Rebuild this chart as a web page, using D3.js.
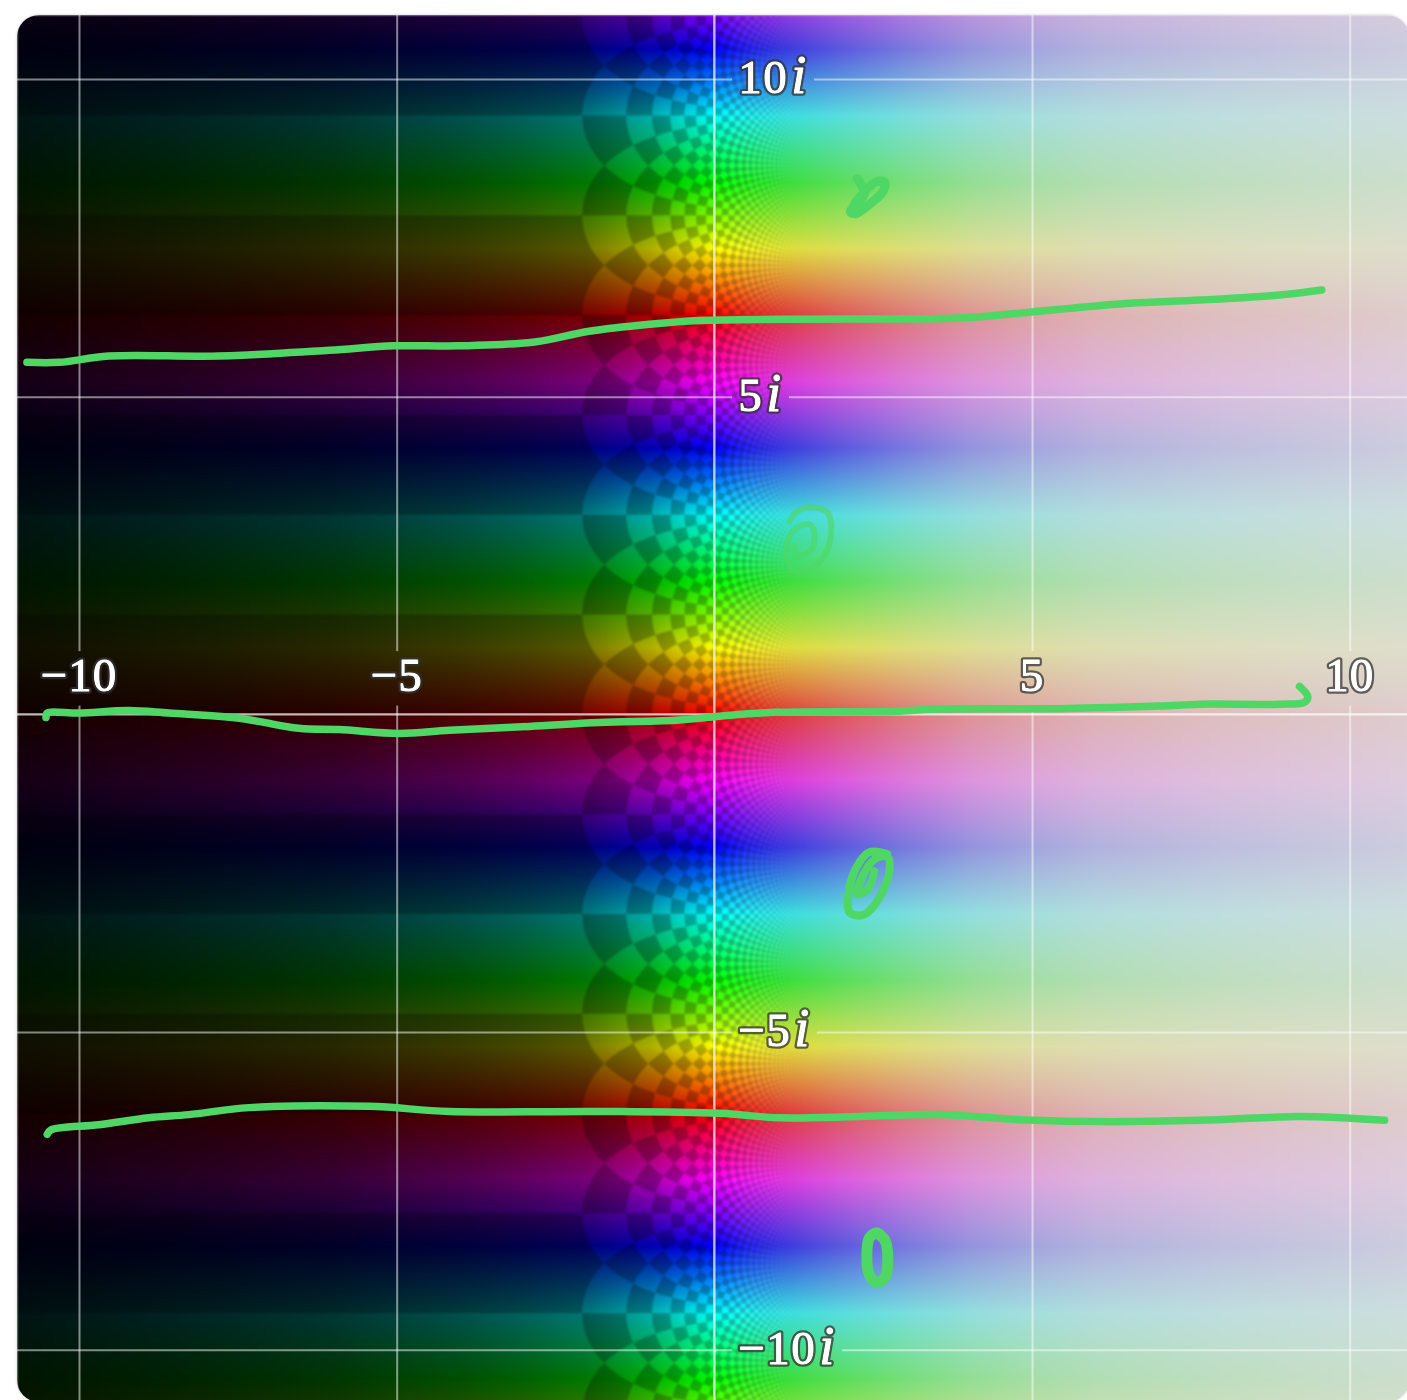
<!DOCTYPE html>
<html><head><meta charset="utf-8">
<script src="https://cdn.jsdelivr.net/npm/d3@7"></script>
<style>
html,body{margin:0;padding:0;background:#fff;overflow:hidden;width:1407px;height:1400px}
#frame{position:absolute;left:17px;top:15px;width:1392px;height:1387px;border-radius:22px;overflow:hidden;box-shadow:0 0 3px rgba(0,0,0,.2)}
#plane{position:absolute;left:0;top:0;filter:blur(1px)}
#over{position:absolute;left:0;top:0;filter:blur(.5px)}
</style></head><body>
<div id="frame"><canvas id="plane"></canvas></div>
<svg id="over" width="1407" height="1400"></svg>
<script>
// ---- axes
const realTicks = [-10,-5,5,10];
const imagTicks = [10,5,-5,-10];
const realLabels = ["−10","−5","5","10"];
const imagLabels = ["10","5","−5","−10"];
// ---- colour read-outs: hue against Im(z), lightness against Re(z)
const hueAtIm  = [0,1.05,2.09,3.14,4.19,5.24,6.28];
const hueDeg   = [0,60,120,180,240,300,360];
const lightAtRe= [-11,-10,-8,-6,-5,-4,-3,-2,-1,-.5,0,.5,1,2,3,4,5,6,8,10,11];
const lightVal = [.04,.05,.075,.105,.13,.155,.19,.235,.34,.42,.5,.57,.62,.7,.77,.83,.87,.9,.93,.95,.96];
const cellsPerUnit = 8, darkCell = .74;
// ---- hand-drawn green ink, in plot units
const ink1Re=[-10.82,-10.31,-9.53,-7.80,-6.06,-5.04,-4.02,-2.83,-1.97,-1.02,-0.24,1.18,3.86,4.65,5.59,6.54,7.64,8.90,9.56];
const ink1Im=[5.54,5.54,5.64,5.64,5.73,5.80,5.80,5.86,6.03,6.14,6.20,6.22,6.24,6.30,6.39,6.47,6.52,6.60,6.68];
const ink2Re=[-10.52,-10.50,-10.0,-9.21,-8.58,-7.48,-6.54,-5.91,-4.96,-4.17,-2.91,-1.81,-0.55,0.08,0.87,2.91,3.39,5.43,7.01,7.64,8.90,9.29,9.34,9.21];
const ink2Im=[-.05,.02,.02,.06,.02,-.06,-.22,-.24,-.30,-.25,-.19,-.13,-.09,-.03,.03,.05,.08,.09,.13,.16,.16,.19,.28,.44];
const ink3Re=[-10.50,-10.44,-9.69,-8.90,-8.27,-7.32,-5.43,-4.17,-1.81,.08,1.02,2.28,3.54,4.80,6.06,7.64,9.21,10.55];
const ink3Im=[-6.61,-6.54,-6.46,-6.35,-6.30,-6.19,-6.17,-6.25,-6.25,-6.28,-6.35,-6.33,-6.30,-6.38,-6.41,-6.39,-6.33,-6.39];
const markARe=[2.25,2.36,2.20,2.14,2.22,2.44,2.66,2.68,2.54,2.38,2.20,2.17];
const markAIm=[8.43,8.19,8.00,7.91,7.88,8.03,8.24,8.38,8.38,8.24,8.02,7.91];
const markBRe=[1.18,1.31,1.54,1.78,1.84,1.76,1.50,1.26,1.15,1.18,1.34,1.50,1.57,1.53,1.31,1.26];
const markBIm=[3.04,3.20,3.26,3.18,2.91,2.55,2.28,2.25,2.44,2.80,2.96,2.99,2.87,2.60,2.49,2.65];
const markCRe=[2.72,2.44,2.22,2.11,2.13,2.36,2.60,2.76,2.72,2.52,2.31,2.25,2.41,2.52];
const markCIm=[-2.20,-2.17,-2.44,-2.83,-3.12,-3.15,-2.88,-2.44,-2.24,-2.28,-2.60,-2.83,-2.76,-2.47];
const markDRe=[2.55,2.68,2.73,2.68,2.55,2.44,2.40,2.44,2.55,2.62];
const markDIm=[-8.16,-8.27,-8.55,-8.87,-8.94,-8.82,-8.50,-8.24,-8.16,-8.20];

const xScale = d3.scaleLinear().domain([-10,10]).range([79,1349.7]);
const yScale = d3.scaleLinear().domain([10,-10]).range([79,1349.7]);
const hueScale = d3.scaleLinear().domain(hueAtIm).range(hueDeg);
const lightScale = d3.scaleLinear().domain(lightAtRe).range(lightVal);

// ---- the complex plane
const ox=17, oy=15, W=1392, H=1387;
const cv=document.getElementById('plane'); cv.width=W; cv.height=H;
const ctx=cv.getContext('2d'), img=ctx.createImageData(W,H), px=img.data;
const TAU=hueAtIm[hueAtIm.length-1];
const SS=5;
function parity(re,im){
  const m=Math.exp(re);
  const a=Math.floor(m*Math.cos(im)*cellsPerUnit), b=Math.floor(m*Math.sin(im)*cellsPerUnit);
  return ((a+b)%2+2)%2; // odd cells are the bright ones
}
const fadeScale=d3.scaleLinear().domain([.3,2]).range([1,0]).clamp(true);
for(let j=0;j<H;j++){
  const imC=yScale.invert(j+oy+.5);
  const h=hueScale(((imC%TAU)+TAU)%TAU);
  for(let i=0;i<W;i++){
    const reC=xScale.invert(i+ox+.5);
    const c=d3.hsl(h,1,lightScale(reC)).rgb();
    let bright=.5;
    const fade=fadeScale(reC);
    if(fade>0){
      let n=0;
      for(let a=0;a<SS;a++)for(let b=0;b<SS;b++){
        n+=parity(xScale.invert(i+ox+(a+.5)/SS),yScale.invert(j+oy+(b+.5)/SS));
      }
      bright=.5+(n/(SS*SS)-.5)*fade;
    }
    const f=darkCell+(1-darkCell)*bright, k=(j*W+i)*4;
    px[k]=c.r*f;px[k+1]=c.g*f;px[k+2]=c.b*f;px[k+3]=255;
  }
}
ctx.putImageData(img,0,0);

// ---- overlay
const svg=d3.select('#over');
const defs=svg.append('defs');
defs.append('clipPath').attr('id','fr').append('rect').attr('x',ox).attr('y',oy).attr('width',W).attr('height',H).attr('rx',22);
const mask=defs.append('mask').attr('id','gap').attr('maskUnits','userSpaceOnUse').attr('x',0).attr('y',0).attr('width',1407).attr('height',1400);
mask.append('rect').attr('width',1407).attr('height',1400).attr('fill','#fff');

const root=svg.append('g').attr('clip-path','url(#fr)');
const grid=root.append('g').attr('mask','url(#gap)');
grid.call(d3.axisBottom(xScale).tickValues(realTicks).tickSize(1400).tickFormat(''))
    .call(g=>g.select('.domain').remove())
    .selectAll('.tick line').attr('stroke','#fff').attr('stroke-opacity',.5).attr('stroke-width',2);
const gridH=grid.append('g');
gridH.call(d3.axisRight(yScale).tickValues(imagTicks).tickSize(1407).tickFormat(''))
    .call(g=>g.select('.domain').remove())
    .selectAll('.tick line').attr('stroke','#fff').attr('stroke-opacity',.5).attr('stroke-width',2);

// main axes
root.append('line').attr('x1',xScale(0)).attr('x2',xScale(0)).attr('y1',0).attr('y2',1400).attr('stroke','#fff').attr('stroke-opacity',.72).attr('stroke-width',2.4);
root.append('line').attr('x1',0).attr('x2',1407).attr('y1',yScale(0)).attr('y2',yScale(0)).attr('stroke','#fff').attr('stroke-opacity',.72).attr('stroke-width',2.4);

const labels=root.append('g');
// two layers: a dark halo, then the white glyph slightly emboldened
[{stroke:'#333',op:.75,w:5.5},{stroke:'#fff',op:1,w:.9}].forEach(layer=>{
  const style=s=>s.attr('font-family','"Liberation Serif",serif').attr('font-size',47)
    .attr('fill','#fff').attr('stroke',layer.stroke).attr('stroke-opacity',layer.op).attr('stroke-width',layer.w)
    .attr('paint-order','stroke').attr('stroke-linejoin','round');
  labels.append('g').selectAll('text').data(realTicks).join('text').call(style)
    .attr('x',d=>xScale(d)).attr('y',yScale(0)-23).attr('text-anchor','middle')
    .attr('letter-spacing',1).text((d,i)=>realLabels[i]);
  const il=labels.append('g').selectAll('text').data(imagTicks).join('text').attr('class','im').call(style)
    .attr('x',xScale(0)+24).attr('y',d=>yScale(d)+14).attr('text-anchor','start').attr('letter-spacing',1.5);
  il.append('tspan').text((d,i)=>imagLabels[i]);
  il.append('tspan').attr('font-style','italic').attr('font-size',54).attr('dx',3).text('i');
});
labels.selectAll('text').each(function(){
  const b=this.getBBox();
  mask.append('rect').attr('x',b.x-6).attr('y',b.y+2).attr('width',b.width+12).attr('height',b.height+2).attr('fill','#000');
});

// ---- green ink
const inkLine=d3.line().x(d=>xScale(d[0])).y(d=>yScale(d[1])).curve(d3.curveCatmullRom);
const inkSeries=[
  {re:ink1Re,im:ink1Im,w:7.5,o:1},{re:ink2Re,im:ink2Im,w:7.5,o:1},{re:ink3Re,im:ink3Im,w:7.5,o:1},
  {re:markARe,im:markAIm,w:9,o:1},{re:markBRe,im:markBIm,w:6,o:.65},{re:markCRe,im:markCIm,w:8,o:1},{re:markDRe,im:markDIm,w:11,o:1}
];
svg.append('g').selectAll('path').data(inkSeries).join('path')
  .attr('d',s=>inkLine(s.re.map((v,i)=>[v,s.im[i]])))
  .attr('fill','none').attr('stroke','#4fd765').attr('stroke-opacity',s=>s.o)
  .attr('stroke-width',s=>s.w).attr('stroke-linecap','round').attr('stroke-linejoin','round');
</script>
</body></html>
